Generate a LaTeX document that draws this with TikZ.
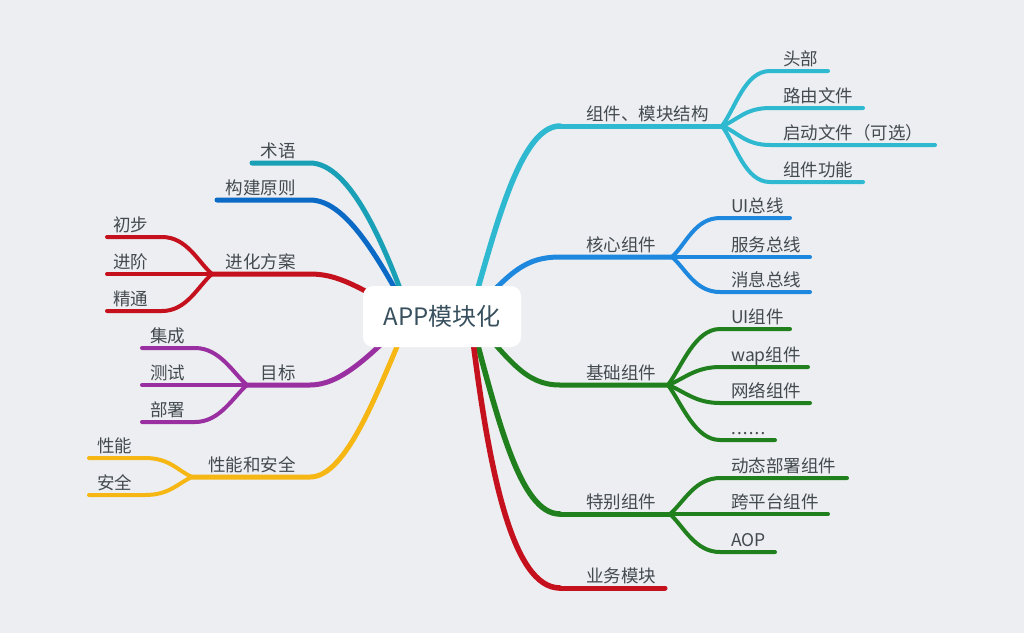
\documentclass[tikz,border=0pt]{standalone}
\usepackage{fontspec}
\newfontfamily\cjk{Noto Sans CJK SC}
\newfontfamily\latinf{Noto Sans}
\definecolor{bg}{HTML}{ECEEF1}
\definecolor{cyanA}{HTML}{2EB9D1}
\definecolor{tealA}{HTML}{1AA0B6}
\definecolor{blueA}{HTML}{1E87DE}
\definecolor{blueB}{HTML}{0A6AC6}
\definecolor{greenA}{HTML}{21801E}
\definecolor{redA}{HTML}{C4111D}
\definecolor{purpleA}{HTML}{9A2FA1}
\definecolor{yellowA}{HTML}{F6B715}
\definecolor{txt}{HTML}{434A50}
\definecolor{roottxt}{HTML}{38505E}
\tikzset{
  lbl/.style={font=\cjk\fontsize{17.5}{20}\selectfont, text=txt, inner sep=0pt},
  lblw/.style={lbl, anchor=base west},
  lble/.style={lbl, anchor=base east},
  mainline/.style={line width=5pt, line cap=round, line join=round},
  subline/.style={line width=4pt, line cap=round, line join=round},
  rootbox/.style={fill=white, rounded corners=10pt, minimum width=158pt, minimum height=61pt,
    inner sep=0pt, font=\cjk\fontsize{24}{28}\selectfont, text=roottxt}
}
\begin{document}
\begin{tikzpicture}[x=1pt,y=-1pt]
\fill[bg] (0,0) rectangle (1024,633);
\useasboundingbox (0,0) rectangle (1024,633);

% anchors inside the root
\coordinate (Rs) at (470,316);
\coordinate (Ls) at (410,316);

% ---------- right: 组件、模块结构 ----------
\coordinate (zj0) at (560,126); \coordinate (zj) at (722,126);
\coordinate (z1s) at (770,71);  \coordinate (z1e) at (828,71);
\coordinate (z2s) at (770,108); \coordinate (z2e) at (863,108);
\coordinate (z3s) at (770,145); \coordinate (z3e) at (935,145);
\coordinate (z4s) at (770,182); \coordinate (z4e) at (863,182);
\draw[mainline,cyanA,line width=5.5pt] (Rs) .. controls (495,230) and (520,126) .. (zj0);
\draw[mainline,cyanA] (zj0) -- (zj);
\draw[subline,cyanA] (zj) .. controls +(14,-19) and +(-25,0) .. (z1s) -- (z1e);
\draw[subline,cyanA] (zj) .. controls +(16,-6) and +(-25,0) .. (z2s) -- (z2e);
\draw[subline,cyanA] (zj) .. controls +(16,6) and +(-25,0) .. (z3s) -- (z3e);
\draw[subline,cyanA] (zj) .. controls +(14,19) and +(-25,0) .. (z4s) -- (z4e);

% ---------- right: 核心组件 ----------
\coordinate (kj0) at (560,257); \coordinate (kj) at (672,257);
\coordinate (k1s) at (720,218); \coordinate (k1e) at (790,218);
\coordinate (k2e) at (810,257);
\coordinate (k3s) at (720,292); \coordinate (k3e) at (810,292);
\draw[mainline,blueA] (Rs) .. controls (510,272) and (525,257) .. (kj0) -- (kj);
\draw[subline,blueA] (kj) .. controls +(14,-13) and +(-25,0) .. (k1s) -- (k1e);
\draw[subline,blueA] (kj) -- (k2e);
\draw[subline,blueA] (kj) .. controls +(14,12) and +(-25,0) .. (k3s) -- (k3e);

% ---------- right: 基础组件 ----------
\coordinate (jj0) at (560,385); \coordinate (jj) at (668,385);
\coordinate (j1s) at (720,329); \coordinate (j1e) at (790,329);
\coordinate (j2s) at (720,367); \coordinate (j2e) at (808,367);
\coordinate (j3s) at (720,403); \coordinate (j3e) at (810,403);
\coordinate (j4s) at (720,440); \coordinate (j4e) at (775,440);
\draw[mainline,greenA] (Rs) .. controls (510,360) and (525,385) .. (jj0) -- (jj);
\draw[subline,greenA] (jj) .. controls +(14,-19) and +(-25,0) .. (j1s) -- (j1e);
\draw[subline,greenA] (jj) .. controls +(16,-6) and +(-25,0) .. (j2s) -- (j2e);
\draw[subline,greenA] (jj) .. controls +(16,6) and +(-25,0) .. (j3s) -- (j3e);
\draw[subline,greenA] (jj) .. controls +(14,19) and +(-25,0) .. (j4s) -- (j4e);

% ---------- right: 特别组件 ----------
\coordinate (tj0) at (560,514); \coordinate (tj) at (670,514);
\coordinate (t1s) at (720,478); \coordinate (t1e) at (847,478);
\coordinate (t2e) at (828,514);
\coordinate (t3s) at (720,552); \coordinate (t3e) at (775,552);
\draw[mainline,greenA,line width=5.5pt] (Rs) .. controls (498,420) and (520,514) .. (tj0);
\draw[mainline,greenA] (tj0) -- (tj);
\draw[subline,greenA] (tj) .. controls +(14,-12) and +(-25,0) .. (t1s) -- (t1e);
\draw[subline,greenA] (tj) -- (t2e);
\draw[subline,greenA] (tj) .. controls +(14,13) and +(-25,0) .. (t3s) -- (t3e);

% ---------- right: 业务模块 ----------
\coordinate (yw0) at (560,588); \coordinate (ywe) at (665,588);
\draw[mainline,redA,line width=5.5pt] (Rs) .. controls (488,470) and (512,588) .. (yw0);
\draw[mainline,redA] (yw0) -- (ywe);

% ---------- left: 术语 ----------
\coordinate (sy0) at (310,163); \coordinate (sye) at (252,163);
\draw[mainline,tealA] (Ls) .. controls (385,245) and (350,163) .. (sy0) -- (sye);

% ---------- left: 构建原则 ----------
\coordinate (gj0) at (310,200); \coordinate (gje) at (217,200);
\draw[mainline,blueB] (Ls) .. controls (377,255) and (345,200) .. (gj0) -- (gje);

% ---------- left: 进化方案 ----------
\coordinate (jh0) at (310,274); \coordinate (jhj) at (212,274);
\coordinate (jh1s) at (162,237); \coordinate (jh1e) at (107,237);
\coordinate (jh2e) at (107,274);
\coordinate (jh3s) at (162,311); \coordinate (jh3e) at (107,311);
\draw[mainline,redA] (Ls) .. controls (357,286) and (338,274) .. (jh0) -- (jhj);
\draw[subline,redA] (jhj) .. controls +(-14,-12) and +(25,0) .. (jh1s) -- (jh1e);
\draw[subline,redA] (jhj) -- (jh2e);
\draw[subline,redA] (jhj) .. controls +(-14,12) and +(25,0) .. (jh3s) -- (jh3e);

% ---------- left: 目标 ----------
\coordinate (mb0) at (310,385); \coordinate (mbj) at (247,385);
\coordinate (mb1s) at (195,348); \coordinate (mb1e) at (142,348);
\coordinate (mb2e) at (142,385);
\coordinate (mb3s) at (195,422); \coordinate (mb3e) at (142,422);
\draw[mainline,purpleA] (Ls) .. controls (368,358) and (340,385) .. (mb0) -- (mbj);
\draw[subline,purpleA] (mbj) .. controls +(-14,-12) and +(25,0) .. (mb1s) -- (mb1e);
\draw[subline,purpleA] (mbj) -- (mb2e);
\draw[subline,purpleA] (mbj) .. controls +(-14,12) and +(25,0) .. (mb3s) -- (mb3e);

% ---------- left: 性能和安全 ----------
\coordinate (xn0) at (310,477); \coordinate (xnj) at (192,477);
\coordinate (xn1s) at (145,458); \coordinate (xn1e) at (89,458);
\coordinate (xn2s) at (145,495); \coordinate (xn2e) at (89,495);
\draw[mainline,yellowA] (Ls) .. controls (378,390) and (347,477) .. (xn0) -- (xnj);
\draw[subline,yellowA] (xnj) .. controls +(-14,-6) and +(25,0) .. (xn1s) -- (xn1e);
\draw[subline,yellowA] (xnj) .. controls +(-14,6) and +(25,0) .. (xn2s) -- (xn2e);

% ---------- root ----------
\node[rootbox] (root) at (442,316.5) {APP模块化};

% ---------- labels right ----------
\node[lblw] (lz)  at (586,120) {组件、模块结构};
\node[lblw] (lz1) at (783,65)  {头部};
\node[lblw] (lz2) at (783,102) {路由文件};
\node[lblw] (lz3) at (783,139) {启动文件（可选）};
\node[lblw] (lz4) at (783,176) {组件功能};

\node[lblw] (lk)  at (586,251) {核心组件};
\node[lblw] (lk1) at (731,212) {UI总线};
\node[lblw] (lk2) at (731,251) {服务总线};
\node[lblw] (lk3) at (731,286) {消息总线};

\node[lblw] (lj)  at (586,379) {基础组件};
\node[lblw] (lj1) at (731,323) {UI组件};
\node[lblw] (lj2) at (731,361) {wap组件};
\node[lblw] (lj3) at (731,397) {网络组件};
\node[lblw, font=\latinf\fontsize{17.5}{20}\selectfont] (lj4) at (731,434)
  {\hbox to 34pt{.\hfill.\hfill.\hfill.\hfill.\hfill.}};

\node[lblw] (lt)  at (586,508) {特别组件};
\node[lblw] (lt1) at (731,472) {动态部署组件};
\node[lblw] (lt2) at (731,508) {跨平台组件};
\node[lblw] (lt3) at (731,546) {AOP};

\node[lblw] (lyw) at (586,582) {业务模块};

% ---------- labels left ----------
\node[lble] (lsy) at (296,157) {术语};
\node[lble] (lgj) at (296,194) {构建原则};
\node[lble] (ljh) at (296,268) {进化方案};
\node[lblw] (ljh1) at (113,231) {初步};
\node[lblw] (ljh2) at (113,268) {进阶};
\node[lblw] (ljh3) at (113,305) {精通};
\node[lble] (lmb) at (296,379) {目标};
\node[lblw] (lmb1) at (150,342) {集成};
\node[lblw] (lmb2) at (150,379) {测试};
\node[lblw] (lmb3) at (150,416) {部署};
\node[lble] (lxn) at (296,471) {性能和安全};
\node[lblw] (lxn1) at (97,452) {性能};
\node[lblw] (lxn2) at (97,489) {安全};
\end{tikzpicture}
\end{document}
